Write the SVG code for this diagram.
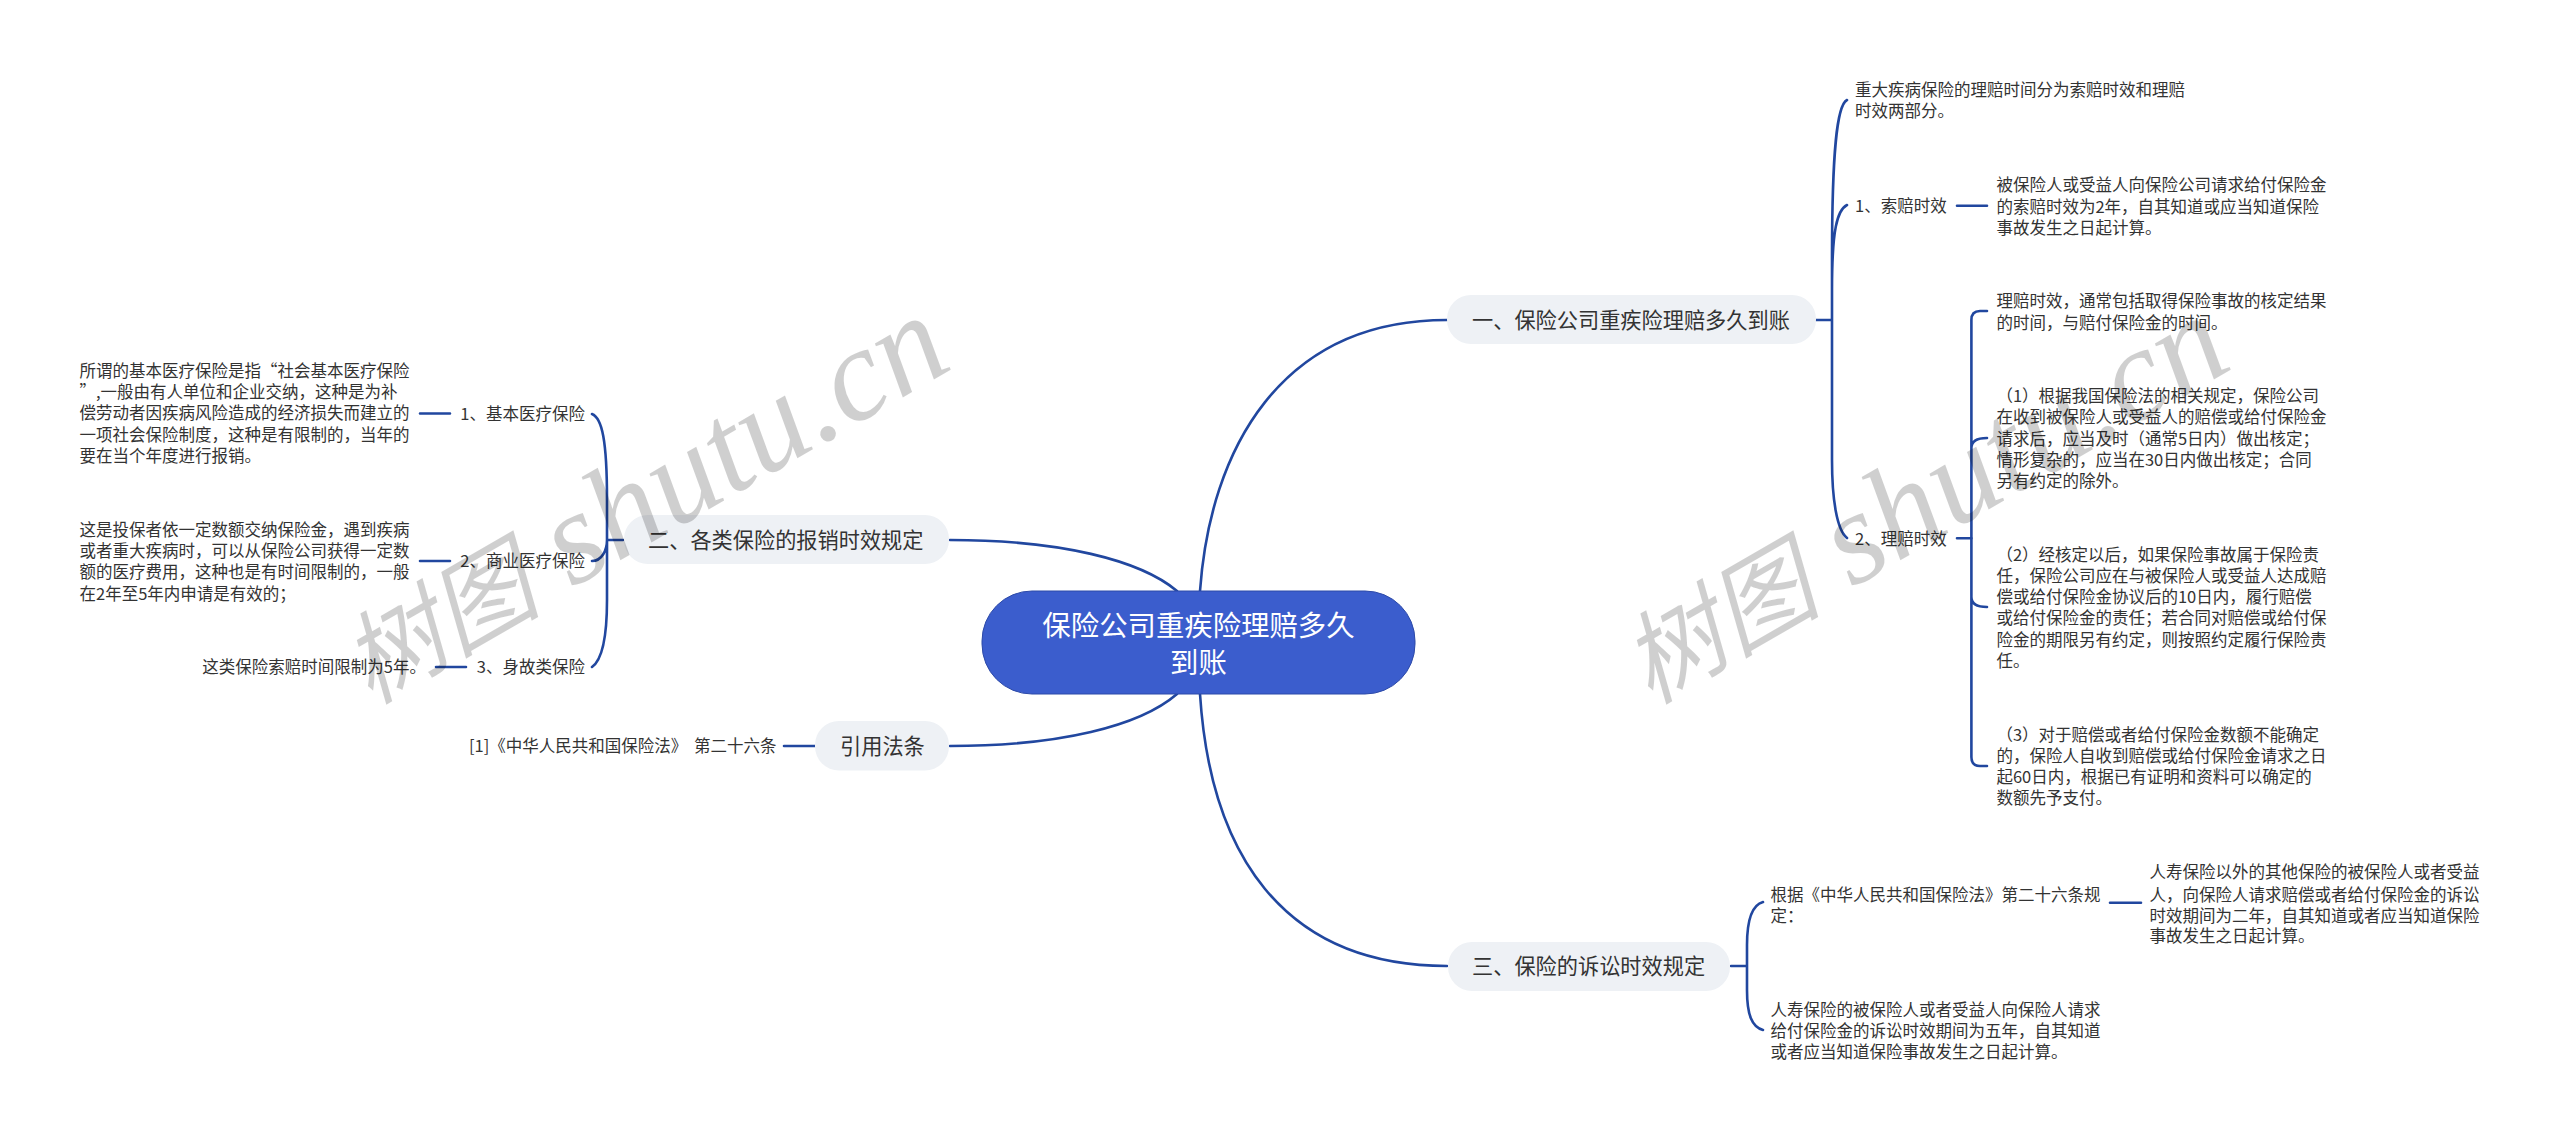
<svg xmlns="http://www.w3.org/2000/svg" width="2560" height="1141" viewBox="0 0 2560 1141">
<style>
text{font-family:"Noto Sans CJK SC","Microsoft YaHei",sans-serif;fill:#333;dominant-baseline:central}
.s{font-size:16.5px;transform:translateY(-1.200px)}
.m{font-size:21.2px;transform:translateY(-1.200px)}
.t{font-size:28.4px;fill:#fff;text-anchor:middle;transform:translateY(-1px)}
.e{text-anchor:end}
.p{fill:#eef1f5}
.c{fill:none;stroke:#21479f;stroke-width:2.600;stroke-linecap:round}
.w{font-family:"Liberation Serif","Noto Sans CJK SC",serif;font-size:132px;font-style:italic;fill:#000;fill-opacity:.19;dominant-baseline:auto}
.w tspan{font-size:100px}
</style>
<rect width="2560" height="1141" fill="#fff"/>
<g id="connectors">
<path class="c" d="M950 540C1060 540 1140 560 1177 591"/>
<path class="c" d="M950 746C1060 746 1140 726 1177 694"/>
<path class="c" d="M1200 591C1210 450 1280 320 1447 320"/>
<path class="c" d="M1200 694C1210 850 1280 966 1447 966"/>
<path class="c" d="M623 540H607M592 414C602 418 607 440 607 500V540C607 550 602 561 592 561M607 540V600C607 640 602 660 592 667"/>
<path class="c" d="M420 413.500H450M420 561H450M436 667H466M784 746H815"/>
<path class="c" d="M1816 320H1832M1847 100C1837 105 1832 150 1832 260V320M1847 205C1837 210 1832 230 1832 290V320M1832 320V460C1832 500 1837 530 1847 538"/>
<path class="c" d="M1957 205.700H1987M1957 538.300H1971.400"/>
<path class="c" d="M1987 311H1980Q1971.400 311 1971.400 320V757Q1971.400 766 1980 766H1987M1987 438Q1971.400 438 1971.400 448M1971.400 597Q1971.400 607 1987 607"/>
<path class="c" d="M1731 966H1747M1763 902C1752 905 1747 920 1747 945V966M1747 966V990C1747 1015 1752 1027 1763 1030M2110 902.700H2141"/>
</g>
<g id="root"><rect x="982" y="591" width="433" height="103" rx="50" fill="#3b5dcd" stroke="#2d4aa8"/>
<text class="t" x="1198.500" y="624">保险公司重疾险理赔多久</text>
<text class="t" x="1198.500" y="661.700">到账</text></g>
<g id="n1"><rect class="p" x="1447" y="295" width="369" height="49" rx="24"/><text class="m" x="1472" y="320">一、保险公司重疾险理赔多久到账</text></g>
<g id="n2"><rect class="p" x="624" y="515" width="325" height="49" rx="24"/><text class="m" x="648" y="540">二、各类保险的报销时效规定</text></g>
<g id="n3"><rect class="p" x="815" y="721" width="134" height="49.500" rx="24"/><text class="m" x="840" y="746">引用法条</text></g>
<g id="n4"><rect class="p" x="1448" y="942" width="282" height="49" rx="24"/><text class="m" x="1472" y="966">三、保险的诉讼时效规定</text></g>
<g id="l1"><text class="s e" x="585" y="414">1、基本医疗保险</text>
<text class="s" x="79.500" y="371">所谓的基本医疗保险是指“社会基本医疗保险</text>
<text class="s" x="79.500" y="392.300">”,一般由有人单位和企业交纳，这种是为补</text>
<text class="s" x="79.500" y="413.700">偿劳动者因疾病风险造成的经济损失而建立的</text>
<text class="s" x="79.500" y="435">一项社会保险制度，这种是有限制的，当年的</text>
<text class="s" x="79.500" y="456.300">要在当个年度进行报销。</text></g>
<g id="l2"><text class="s e" x="585" y="561">2、商业医疗保险</text>
<text class="s" x="79.500" y="530">这是投保者依一定数额交纳保险金，遇到疾病</text>
<text class="s" x="79.500" y="551.700">或者重大疾病时，可以从保险公司获得一定数</text>
<text class="s" x="79.500" y="572.700">额的医疗费用，这种也是有时间限制的，一般</text>
<text class="s" x="79.500" y="594">在2年至5年内申请是有效的；</text></g>
<g id="l3"><text class="s e" x="585" y="667">3、身故类保险</text>
<text class="s e" x="426" y="667">这类保险索赔时间限制为5年。</text></g>
<g id="l4"><text class="s e" x="776.500" y="746.500" word-spacing="3">[1]《中华人民共和国保险法》 第二十六条</text></g>
<g id="r0"><text class="s" x="1855" y="90.700">重大疾病保险的理赔时间分为索赔时效和理赔</text>
<text class="s" x="1855" y="111.700">时效两部分。</text></g>
<g id="r1"><text class="s" x="1855" y="206.500">1、索赔时效</text>
<text class="s" x="1996.400" y="185.700">被保险人或受益人向保险公司请求给付保险金</text>
<text class="s" x="1996.400" y="207">的索赔时效为2年，自其知道或应当知道保险</text>
<text class="s" x="1996.400" y="228.300">事故发生之日起计算。</text></g>
<g id="r2"><text class="s" x="1855" y="539">2、理赔时效</text>
<text class="s" x="1996.400" y="301.700">理赔时效，通常包括取得保险事故的核定结果</text>
<text class="s" x="1996.400" y="323.300">的时间，与赔付保险金的时间。</text></g>
<g id="r2a"><text class="s" x="1996.400" y="396.700">（1）根据我国保险法的相关规定，保险公司</text>
<text class="s" x="1996.400" y="417.700">在收到被保险人或受益人的赔偿或给付保险金</text>
<text class="s" x="1996.400" y="439">请求后，应当及时（通常5日内）做出核定；</text>
<text class="s" x="1996.400" y="460.300">情形复杂的，应当在30日内做出核定；合同</text>
<text class="s" x="1996.400" y="481.700">另有约定的除外。</text></g>
<g id="r2b"><text class="s" x="1996.400" y="555">（2）经核定以后，如果保险事故属于保险责</text>
<text class="s" x="1996.400" y="576.300">任，保险公司应在与被保险人或受益人达成赔</text>
<text class="s" x="1996.400" y="597.300">偿或给付保险金协议后的10日内，履行赔偿</text>
<text class="s" x="1996.400" y="618.700">或给付保险金的责任；若合同对赔偿或给付保</text>
<text class="s" x="1996.400" y="640">险金的期限另有约定，则按照约定履行保险责</text>
<text class="s" x="1996.400" y="661.700">任。</text></g>
<g id="r2c"><text class="s" x="1996.400" y="735">（3）对于赔偿或者给付保险金数额不能确定</text>
<text class="s" x="1996.400" y="756.300">的，保险人自收到赔偿或给付保险金请求之日</text>
<text class="s" x="1996.400" y="777.300">起60日内，根据已有证明和资料可以确定的</text>
<text class="s" x="1996.400" y="798.700">数额先予支付。</text></g>
<g id="r3"><text class="s" x="1770.500" y="895.700">根据《中华人民共和国保险法》第二十六条规</text>
<text class="s" x="1770.500" y="916.500">定：</text>
<text class="s" x="2149.500" y="872.700">人寿保险以外的其他保险的被保险人或者受益</text>
<text class="s" x="2149.500" y="895">人，向保险人请求赔偿或者给付保险金的诉讼</text>
<text class="s" x="2149.500" y="916">时效期间为二年，自其知道或者应当知道保险</text>
<text class="s" x="2149.500" y="936.700">事故发生之日起计算。</text></g>
<g id="r4"><text class="s" x="1770.500" y="1010.700">人寿保险的被保险人或者受益人向保险人请求</text>
<text class="s" x="1770.500" y="1031.700">给付保险金的诉讼时效期间为五年，自其知道</text>
<text class="s" x="1770.500" y="1052">或者应当知道保险事故发生之日起计算。</text></g>
<g id="watermarks"><text class="w" transform="translate(370 705) rotate(-30)"><tspan>树图</tspan> shutu.cn</text>
<text class="w" transform="translate(1650 705) rotate(-30)"><tspan>树图</tspan> shutu.cn</text></g>
</svg>
